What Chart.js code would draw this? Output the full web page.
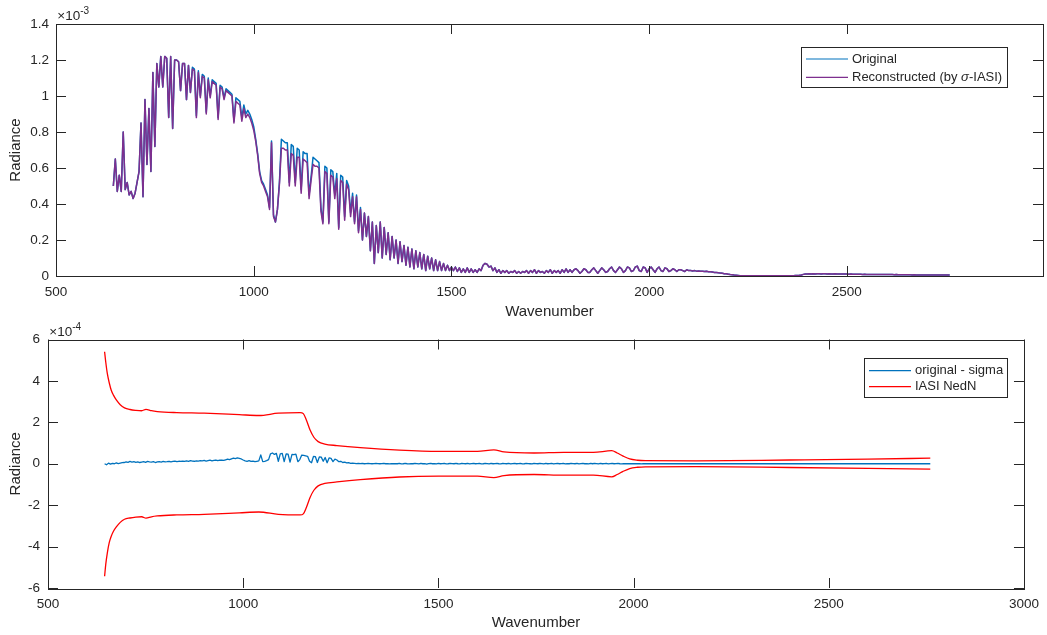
<!DOCTYPE html>
<html>
<head>
<meta charset="utf-8">
<title>IASI radiance reconstruction</title>
<script src="https://cdn.jsdelivr.net/npm/chart.js@4.4.1/dist/chart.umd.min.js"></script>
<style>
  html, body { margin: 0; padding: 0; background: #fff; }
  #wrap { position: relative; width: 1047px; height: 635px; }
  #topChart { position: absolute; left: 0; top: 0; }
  #bottomChart { position: absolute; left: 0; top: 322px; }
</style>
</head>
<body>
<div id="wrap">
  <canvas id="topChart" width="1047" height="322"></canvas>
  <canvas id="bottomChart" width="1047" height="313"></canvas>
</div>
<script>
const waveStart = 645;
const waveStep = 5;

// Top panel: radiance, in units of 1e-3 (one row = 50 cm-1)
const original = [
  0.50, 0.65, 0.47, 0.56, 0.47, 0.80, 0.48, 0.52, 0.45, 0.47,   // 645
  0.43, 0.46, 0.52, 0.58, 0.85, 0.44, 0.98, 0.62, 0.93, 0.58,   // 695
  1.13, 0.72, 1.18, 1.05, 1.22, 1.05, 1.22, 1.21, 0.88, 1.22,   // 745
  0.82, 1.20, 1.20, 1.19, 1.03, 1.18, 1.18, 0.98, 1.17, 1.02,   // 795
  1.16, 1.15, 0.89, 1.14, 1.00, 1.12, 1.11, 0.91, 1.10, 1.00,   // 845
  1.09, 1.08, 1.07, 0.88, 1.06, 1.05, 0.99, 1.04, 1.03, 1.02,   // 895
  1.01, 0.86, 0.99, 0.98, 0.97, 0.88, 0.95, 0.90, 0.92, 0.90,   // 945
  0.87, 0.83, 0.76, 0.68, 0.58, 0.53, 0.51, 0.48, 0.45, 0.38,   // 995
  0.75, 0.34, 0.30, 0.37, 0.52, 0.76, 0.75, 0.74, 0.74, 0.52,   // 1045
  0.73, 0.72, 0.52, 0.71, 0.70, 0.48, 0.69, 0.68, 0.68, 0.45,   // 1095
  0.55, 0.66, 0.65, 0.64, 0.63, 0.38, 0.30, 0.61, 0.60, 0.30,   // 1145
  0.59, 0.58, 0.45, 0.57, 0.27, 0.56, 0.55, 0.33, 0.53, 0.50,   // 1195
  0.35, 0.46, 0.30, 0.45, 0.25, 0.38, 0.20, 0.35, 0.22, 0.33,   // 1245
  0.14, 0.30, 0.07, 0.28, 0.13, 0.30, 0.10, 0.27, 0.12, 0.24,   // 1295
  0.09, 0.22, 0.10, 0.20, 0.07, 0.19, 0.08, 0.17, 0.06, 0.16,   // 1345
  0.05, 0.15, 0.04, 0.14, 0.05, 0.13, 0.04, 0.12, 0.03, 0.11,   // 1395
  0.04, 0.10, 0.03, 0.09, 0.03, 0.08, 0.03, 0.07, 0.03, 0.06,   // 1445
  0.03, 0.05, 0.03, 0.05, 0.025, 0.045, 0.02, 0.04, 0.02, 0.045, // 1495
  0.02, 0.04, 0.02, 0.035, 0.02, 0.04, 0.03, 0.06, 0.07, 0.065, // 1545
  0.05, 0.055, 0.03, 0.045, 0.02, 0.035, 0.015, 0.03, 0.02, 0.03, // 1595
  0.015, 0.025, 0.02, 0.03, 0.015, 0.025, 0.015, 0.025, 0.02, 0.03, // 1645
  0.015, 0.03, 0.02, 0.035, 0.015, 0.03, 0.02, 0.025, 0.015, 0.03, // 1695
  0.02, 0.035, 0.015, 0.03, 0.02, 0.03, 0.015, 0.035, 0.02, 0.04, // 1745
  0.02, 0.035, 0.02, 0.035, 0.04, 0.03, 0.015, 0.025, 0.04, 0.035, // 1795
  0.02, 0.02, 0.035, 0.045, 0.03, 0.015, 0.03, 0.045, 0.035, 0.02, // 1845
  0.025, 0.04, 0.05, 0.03, 0.02, 0.035, 0.05, 0.04, 0.02, 0.03, // 1895
  0.05, 0.045, 0.025, 0.03, 0.05, 0.055, 0.03, 0.025, 0.05, 0.045, // 1945
  0.02, 0.04, 0.05, 0.035, 0.02, 0.04, 0.05, 0.03, 0.025, 0.045, // 1995
  0.04, 0.025, 0.03, 0.04, 0.035, 0.025, 0.035, 0.035, 0.03, 0.025, // 2045
  0.035, 0.03, 0.03, 0.028, 0.03, 0.027, 0.028, 0.026, 0.027, 0.025, // 2095
  0.026, 0.024, 0.023, 0.022, 0.02, 0.019, 0.018, 0.016, 0.015, 0.013, // 2145
  0.012, 0.01, 0.008, 0.007, 0.005, 0.004, 0.003, 0.002, 0.002, 0.002, // 2195
  0.002, 0.002, 0.001, 0.002, 0.002, 0.002, 0.001, 0.002, 0.002, 0.002, // 2245
  0.002, 0.002, 0.002, 0.001, 0.002, 0.002, 0.002, 0.002, 0.001, 0.002, // 2295
  0.002, 0.002, 0.002, 0.002, 0.002, 0.003, 0.003, 0.004, 0.006, 0.009, // 2345
  0.011, 0.011, 0.012, 0.011, 0.012, 0.011, 0.012, 0.012, 0.011, 0.012, // 2395
  0.012, 0.011, 0.012, 0.011, 0.011, 0.012, 0.011, 0.011, 0.011, 0.011, // 2445
  0.011, 0.011, 0.010, 0.011, 0.010, 0.010, 0.010, 0.010, 0.010, 0.009, // 2495
  0.010, 0.009, 0.009, 0.009, 0.009, 0.009, 0.009, 0.008, 0.009, 0.008, // 2545
  0.008, 0.008, 0.008, 0.008, 0.008, 0.007, 0.008, 0.007, 0.007, 0.007, // 2595
  0.007, 0.007, 0.007, 0.007, 0.006, 0.007, 0.006, 0.006, 0.006, 0.006, // 2645
  0.006, 0.006, 0.006, 0.006, 0.006, 0.006, 0.005, 0.006, 0.005, 0.005, // 2695
  0.005, 0.005, 0.005, 0.005                                          // 2745
];

const reconstructed = [
  0.50, 0.65, 0.47, 0.56, 0.47, 0.80, 0.48, 0.52, 0.45, 0.47,   // 645
  0.43, 0.46, 0.52, 0.58, 0.85, 0.44, 0.98, 0.62, 0.93, 0.58,   // 695
  1.13, 0.72, 1.18, 1.05, 1.22, 1.05, 1.22, 1.21, 0.88, 1.22,   // 745
  0.82, 1.20, 1.20, 1.19, 1.03, 1.18, 1.18, 0.98, 1.17, 1.02,   // 795
  1.15, 1.14, 0.88, 1.13, 0.99, 1.11, 1.10, 0.90, 1.09, 0.99,   // 845
  1.08, 1.07, 1.06, 0.87, 1.05, 1.04, 0.98, 1.03, 1.02, 1.01,   // 895
  1.00, 0.85, 0.97, 0.96, 0.95, 0.86, 0.93, 0.88, 0.90, 0.88,   // 945
  0.85, 0.81, 0.75, 0.67, 0.57, 0.52, 0.50, 0.47, 0.44, 0.37,   // 995
  0.74, 0.33, 0.30, 0.37, 0.51, 0.71, 0.71, 0.70, 0.70, 0.50,   // 1045
  0.68, 0.67, 0.50, 0.66, 0.66, 0.46, 0.65, 0.64, 0.63, 0.43,   // 1095
  0.53, 0.62, 0.61, 0.61, 0.60, 0.36, 0.29, 0.58, 0.57, 0.29,   // 1145
  0.56, 0.55, 0.43, 0.54, 0.26, 0.53, 0.52, 0.31, 0.51, 0.48,   // 1195
  0.33, 0.44, 0.29, 0.44, 0.24, 0.37, 0.20, 0.35, 0.22, 0.33,   // 1245
  0.14, 0.30, 0.07, 0.28, 0.13, 0.30, 0.10, 0.27, 0.12, 0.24,   // 1295
  0.09, 0.22, 0.10, 0.20, 0.07, 0.19, 0.08, 0.17, 0.06, 0.16,   // 1345
  0.05, 0.15, 0.04, 0.14, 0.05, 0.13, 0.04, 0.12, 0.03, 0.11,   // 1395
  0.04, 0.10, 0.03, 0.09, 0.03, 0.08, 0.03, 0.07, 0.03, 0.06,   // 1445
  0.03, 0.05, 0.03, 0.05, 0.025, 0.045, 0.02, 0.04, 0.02, 0.045, // 1495
  0.02, 0.04, 0.02, 0.035, 0.02, 0.04, 0.03, 0.06, 0.07, 0.065, // 1545
  0.05, 0.055, 0.03, 0.045, 0.02, 0.035, 0.015, 0.03, 0.02, 0.03, // 1595
  0.015, 0.025, 0.02, 0.03, 0.015, 0.025, 0.015, 0.025, 0.02, 0.03, // 1645
  0.015, 0.03, 0.02, 0.035, 0.015, 0.03, 0.02, 0.025, 0.015, 0.03, // 1695
  0.02, 0.035, 0.015, 0.03, 0.02, 0.03, 0.015, 0.035, 0.02, 0.04, // 1745
  0.02, 0.035, 0.02, 0.035, 0.04, 0.03, 0.015, 0.025, 0.04, 0.035, // 1795
  0.02, 0.02, 0.035, 0.045, 0.03, 0.015, 0.03, 0.045, 0.035, 0.02, // 1845
  0.025, 0.04, 0.05, 0.03, 0.02, 0.035, 0.05, 0.04, 0.02, 0.03, // 1895
  0.05, 0.045, 0.025, 0.03, 0.05, 0.055, 0.03, 0.025, 0.05, 0.045, // 1945
  0.02, 0.04, 0.05, 0.035, 0.02, 0.04, 0.05, 0.03, 0.025, 0.045, // 1995
  0.04, 0.025, 0.03, 0.04, 0.035, 0.025, 0.035, 0.035, 0.03, 0.025, // 2045
  0.035, 0.03, 0.03, 0.028, 0.03, 0.027, 0.028, 0.026, 0.027, 0.025, // 2095
  0.026, 0.024, 0.023, 0.022, 0.02, 0.019, 0.018, 0.016, 0.015, 0.013, // 2145
  0.012, 0.01, 0.008, 0.007, 0.005, 0.004, 0.003, 0.002, 0.002, 0.002, // 2195
  0.002, 0.002, 0.001, 0.002, 0.002, 0.002, 0.001, 0.002, 0.002, 0.002, // 2245
  0.002, 0.002, 0.002, 0.001, 0.002, 0.002, 0.002, 0.002, 0.001, 0.002, // 2295
  0.002, 0.002, 0.002, 0.002, 0.002, 0.003, 0.003, 0.004, 0.006, 0.009, // 2345
  0.011, 0.011, 0.012, 0.011, 0.012, 0.011, 0.012, 0.012, 0.011, 0.012, // 2395
  0.012, 0.011, 0.012, 0.011, 0.011, 0.012, 0.011, 0.011, 0.011, 0.011, // 2445
  0.011, 0.011, 0.010, 0.011, 0.010, 0.010, 0.010, 0.010, 0.010, 0.009, // 2495
  0.010, 0.009, 0.009, 0.009, 0.009, 0.009, 0.009, 0.008, 0.009, 0.008, // 2545
  0.008, 0.008, 0.008, 0.008, 0.008, 0.007, 0.008, 0.007, 0.007, 0.007, // 2595
  0.007, 0.007, 0.007, 0.007, 0.006, 0.007, 0.006, 0.006, 0.006, 0.006, // 2645
  0.006, 0.006, 0.006, 0.006, 0.006, 0.006, 0.005, 0.006, 0.005, 0.005, // 2695
  0.005, 0.005, 0.005, 0.005                                          // 2745
];

// Bottom panel: original - sigma, in units of 1e-4 (same channel grid)
const difference = [
  0.00, -0.05, 0.03, -0.02, 0.02, 0.00, 0.04, 0.01, 0.03, 0.05,   // 645
  0.06, 0.09, 0.07, 0.11, 0.08, 0.10, 0.07, 0.09, 0.06, 0.08,     // 695
  0.10, 0.07, 0.11, 0.09, 0.08, 0.10, 0.06, 0.09, 0.10, 0.08,     // 745
  0.11, 0.09, 0.10, 0.12, 0.09, 0.11, 0.13, 0.10, 0.12, 0.11,     // 795
  0.13, 0.11, 0.14, 0.12, 0.15, 0.13, 0.12, 0.14, 0.13, 0.15,     // 845
  0.14, 0.16, 0.13, 0.15, 0.17, 0.14, 0.16, 0.18, 0.15, 0.17,     // 895
  0.18, 0.16, 0.19, 0.22, 0.20, 0.24, 0.27, 0.25, 0.28, 0.26,     // 945
  0.23, 0.18, 0.14, 0.12, 0.15, 0.11, 0.13, 0.10, 0.12, 0.14,     // 995
  0.43, 0.10, 0.12, 0.15, 0.20, 0.48, 0.52, 0.45, 0.50, 0.12,     // 1045
  0.48, 0.50, 0.10, 0.47, 0.46, 0.08, 0.45, 0.44, 0.46, 0.10,     // 1095
  0.20, 0.42, 0.40, 0.38, 0.36, 0.12, 0.05, 0.35, 0.34, 0.06,     // 1145
  0.33, 0.32, 0.12, 0.30, 0.05, 0.28, 0.26, 0.10, 0.22, 0.18,     // 1195
  0.10, 0.12, 0.06, 0.08, 0.04, 0.05, 0.02, 0.03, 0.02, 0.01,     // 1245
  0.02, 0.01, 0.02, 0.00, 0.01, 0.02, 0.01, 0.00, 0.01, 0.02,     // 1295
  0.01, 0.00, 0.01, 0.02, 0.00, 0.01, -0.01, 0.01, 0.00, 0.01,    // 1345
  0.00, 0.02, -0.01, 0.00, 0.02, 0.00, -0.01, 0.01, 0.00, 0.02,   // 1395
  0.01, -0.01, 0.02, 0.00, 0.01, -0.02, 0.01, 0.02, 0.00, 0.01,   // 1445
  -0.01, 0.02, 0.00, 0.01, 0.02, -0.01, 0.00, 0.02, 0.01, 0.00,   // 1495
  0.02, 0.00, -0.01, 0.02, 0.01, 0.00, 0.02, -0.01, 0.01, 0.02,   // 1545
  0.00, 0.01, 0.02, -0.01, 0.00, 0.02, 0.01, -0.01, 0.02, 0.00,   // 1595
  0.01, 0.02, 0.00, -0.01, 0.02, 0.01, 0.00, 0.02, -0.01, 0.01,   // 1645
  0.02, 0.00, 0.01, 0.02, -0.01, 0.00, 0.02, 0.01, 0.00, -0.01,   // 1695
  0.02, 0.01, 0.00, 0.02, 0.01, -0.01, 0.02, 0.00, 0.01, 0.02,    // 1745
  -0.01, 0.01, 0.02, 0.00, 0.01, 0.02, -0.01, 0.01, 0.00, 0.02,   // 1795
  0.01, 0.00, 0.02, -0.01, 0.01, 0.02, 0.00, 0.01, -0.01, 0.02,   // 1845
  0.00, 0.02, 0.01, -0.01, 0.02, 0.00, 0.01, 0.02, -0.01, 0.01,   // 1895
  0.02, 0.00, 0.01, 0.02, 0.00, -0.01, 0.01, 0.00, 0.01, 0.00,    // 1945
  0.01, 0.00, 0.00, 0.01, 0.00, -0.01, 0.00, 0.01, 0.00, 0.00,    // 1995
  0.01, 0.00, 0.00, 0.01, 0.00, 0.00, 0.01, 0.00, 0.00, 0.01,     // 2045
  0.00, 0.00, 0.01, 0.00, 0.00, 0.01, 0.00, 0.00, 0.00, 0.01,     // 2095
  0.00, 0.00, 0.01, 0.00, 0.00, 0.00, 0.01, 0.00, 0.00, 0.00,     // 2145
  0.00, 0.01, 0.00, 0.00, 0.00, 0.00, 0.00, 0.00, 0.00, 0.00,     // 2195
  0.00, 0.00, 0.00, 0.00, 0.00, 0.00, 0.00, 0.00, 0.00, 0.00,     // 2245
  0.00, 0.00, 0.00, 0.00, 0.00, 0.00, 0.00, 0.00, 0.00, 0.00,     // 2295
  0.00, 0.00, 0.00, 0.00, 0.00, 0.00, 0.00, 0.00, 0.00, 0.01,     // 2345
  0.00, 0.01, 0.00, 0.00, 0.01, 0.00, 0.00, 0.01, 0.00, 0.00,     // 2395
  0.01, 0.00, 0.00, 0.01, 0.00, 0.00, 0.01, 0.00, 0.00, 0.01,     // 2445
  0.00, 0.00, 0.01, 0.00, 0.00, 0.01, 0.00, 0.00, 0.01, 0.00,     // 2495
  0.00, 0.01, 0.00, 0.00, 0.01, 0.00, 0.00, 0.01, 0.00, 0.00,     // 2545
  0.01, 0.00, 0.00, 0.01, 0.00, 0.00, 0.01, 0.00, 0.00, 0.01,     // 2595
  0.00, 0.00, 0.01, 0.00, 0.00, 0.01, 0.00, 0.00, 0.01, 0.00,     // 2645
  0.00, 0.01, 0.00, 0.00, 0.01, 0.00, 0.00, 0.01, 0.00, 0.00,     // 2695
  0.01, 0.00, 0.00, 0.00                                          // 2745
];

// IASI NedN envelope (units of 1e-4)
const nednWave = [645, 648, 652, 657, 662, 668, 675, 685, 696, 710,
  725, 740, 751, 765, 780, 830, 900, 990, 1040, 1090,
  1146, 1154, 1162, 1171, 1181, 1192, 1209, 1240, 1300, 1400,
  1500, 1600, 1642, 1668, 1745, 1821, 1897, 1944, 1958, 1972,
  1990, 2010, 2030, 2160, 2400, 2600, 2760];
const nednUpper = [5.41, 4.90, 4.35, 3.90, 3.55, 3.30, 3.08, 2.85, 2.70, 2.62,
  2.58, 2.56, 2.63, 2.56, 2.52, 2.47, 2.44, 2.37, 2.33, 2.44,
  2.47, 2.42, 2.10, 1.64, 1.28, 1.07, 0.95, 0.88, 0.78, 0.66,
  0.60, 0.60, 0.67, 0.57, 0.52, 0.55, 0.55, 0.63, 0.52, 0.38,
  0.23, 0.17, 0.15, 0.14, 0.18, 0.22, 0.27];
const nednLower = [-5.43, -4.85, -4.30, -3.80, -3.50, -3.25, -3.05, -2.83, -2.68, -2.62,
  -2.58, -2.56, -2.63, -2.56, -2.52, -2.47, -2.44, -2.37, -2.33, -2.44,
  -2.47, -2.42, -2.10, -1.64, -1.28, -1.07, -0.95, -0.88, -0.77, -0.64,
  -0.60, -0.60, -0.67, -0.57, -0.52, -0.55, -0.55, -0.63, -0.52, -0.38,
  -0.23, -0.17, -0.15, -0.14, -0.18, -0.22, -0.26];

const topXTicks = [500, 1000, 1500, 2000, 2500];
const topYTicks = [0, 0.2, 0.4, 0.6, 0.8, 1, 1.2, 1.4];
const bottomXTicks = [500, 1000, 1500, 2000, 2500, 3000];
const bottomYTicks = [-6, -4, -2, 0, 2, 4, 6];

const FONT = "'Liberation Sans', Arial, Helvetica, sans-serif";
const INK = '#262626';
Chart.defaults.font.family = FONT;
Chart.defaults.color = INK;

const wavenumbers = original.map((_, i) => waveStart + i * waveStep);
const toPoints = (xs, ys) => xs.map((x, i) => ({ x: x, y: ys[i] }));

// MATLAB style box: frame, inward ticks on all sides, x10^n exponent
const matlabAxes = {
    id: 'matlabAxes',
    afterDatasetsDraw(chart, args, opts) {
        const { ctx, chartArea: a, scales } = chart;
        const len = 10;
        ctx.save();
        ctx.strokeStyle = INK;
        ctx.lineWidth = 1;
        ctx.beginPath();
        scales.x.ticks.forEach(t => {
            const px = Math.round(scales.x.getPixelForValue(t.value)) + 0.5;
            ctx.moveTo(px, a.bottom); ctx.lineTo(px, a.bottom - len);
            ctx.moveTo(px, a.top); ctx.lineTo(px, a.top + len);
        });
        scales.y.ticks.forEach(t => {
            const py = Math.round(scales.y.getPixelForValue(t.value)) + 0.5;
            ctx.moveTo(a.left, py); ctx.lineTo(a.left + len, py);
            ctx.moveTo(a.right, py); ctx.lineTo(a.right - len, py);
        });
        ctx.stroke();
        ctx.strokeRect(Math.round(a.left) + 0.5, Math.round(a.top) + 0.5,
            Math.round(a.width), Math.round(a.height));

        ctx.fillStyle = INK;
        ctx.textBaseline = 'alphabetic';
        ctx.font = '13.5px ' + FONT;
        ctx.fillText('\u00d710', a.left + 1.3, a.top - 4);
        const w = ctx.measureText('\u00d710').width;
        ctx.font = '10px ' + FONT;
        ctx.fillText(opts.exponent, a.left + 1.3 + w, a.top - 10);
        ctx.restore();
    }
};

// boxed legend, sigma drawn in italics
const boxLegend = {
    id: 'boxLegend',
    afterDraw(chart, args, opts) {
        const { ctx } = chart;
        ctx.save();
        ctx.fillStyle = '#fff';
        ctx.fillRect(opts.x, opts.y, opts.w, opts.h);
        ctx.strokeStyle = INK;
        ctx.lineWidth = 1;
        ctx.strokeRect(opts.x + 0.5, opts.y + 0.5, opts.w, opts.h);
        ctx.textBaseline = 'middle';
        opts.items.forEach((idx, i) => {
            const ds = chart.data.datasets[idx];
            const y = opts.y + opts.first + i * opts.gap;
            ctx.strokeStyle = ds.borderColor;
            ctx.lineWidth = 1.2;
            ctx.beginPath();
            ctx.moveTo(opts.x + 5, y);
            ctx.lineTo(opts.x + 47, y);
            ctx.stroke();
            ctx.fillStyle = INK;
            let tx = opts.x + 51;
            const parts = ds.label.split('\u03c3');
            parts.forEach((p, j) => {
                ctx.font = '13px ' + FONT;
                ctx.fillText(p, tx, y);
                tx += ctx.measureText(p).width;
                if (j < parts.length - 1) {
                    ctx.font = 'italic 13px ' + FONT;
                    ctx.fillText('\u03c3', tx, y);
                    tx += ctx.measureText('\u03c3').width;
                }
            });
        });
        ctx.restore();
    }
};

function axisOptions(cfg) {
    return {
        type: 'linear',
        min: cfg.min,
        max: cfg.max,
        afterBuildTicks: axis => { axis.ticks = cfg.ticks.map(v => ({ value: v })); },
        afterFit: cfg.fit,
        grid: { display: false, drawTicks: false },
        border: { display: false },
        ticks: {
            padding: cfg.tickPad,
            autoSkip: false,
            maxRotation: 0,
            color: INK,
            font: { size: 13.5 },
            callback: v => String(v)
        },
        title: {
            display: true,
            text: cfg.title,
            color: INK,
            font: { size: 15 },
            padding: cfg.titlePad
        }
    };
}

function makeChart(id, datasets, layoutPad, scales, axesOpts, legendOpts) {
    return new Chart(document.getElementById(id), {
        type: 'line',
        data: { datasets: datasets },
        options: {
            responsive: false,
            animation: false,
            events: [],
            parsing: false,
            layout: { padding: layoutPad },
            elements: {
                point: { radius: 0 },
                line: { tension: 0, borderJoinStyle: 'round' }
            },
            scales: scales,
            plugins: {
                legend: { display: false },
                tooltip: { enabled: false },
                matlabAxes: axesOpts,
                boxLegend: legendOpts
            }
        },
        plugins: [matlabAxes, boxLegend]
    });
}

// Top: original vs reconstructed spectrum
makeChart('topChart', [
    {
        label: 'Original',
        data: toPoints(wavenumbers, original),
        borderColor: '#0072BD',
        borderWidth: 1.5,
        order: 2
    },
    {
        label: 'Reconstructed (by \u03c3-IASI)',
        data: toPoints(wavenumbers, reconstructed),
        borderColor: '#7E2F8E',
        borderWidth: 1.5,
        order: 1
    }
], { top: 24, right: 4, left: 0, bottom: 0 }, {
    x: axisOptions({ min: 500, max: 2996, ticks: topXTicks, tickPad: 8,
        fit: s => { s.height = 46; }, title: 'Wavenumber', titlePad: { top: 0, bottom: 1.3 } }),
    y: axisOptions({ min: 0, max: 1.4, ticks: topYTicks, tickPad: 7,
        fit: s => { s.width = 56; }, title: 'Radiance', titlePad: { top: 6.5, bottom: 0 } })
}, { exponent: '-3' }, { x: 801, y: 47, w: 206, h: 40, first: 12, gap: 18.3, items: [0, 1] });

// Bottom: residual against the instrument noise
makeChart('bottomChart', [
    {
        label: 'original - sigma',
        data: toPoints(wavenumbers, difference),
        borderColor: '#0072BD',
        borderWidth: 1.3
    },
    {
        label: 'IASI NedN',
        data: toPoints(nednWave, nednUpper),
        borderColor: '#FF0000',
        borderWidth: 1.3,
        cubicInterpolationMode: 'monotone'
    },
    {
        label: 'IASI NedN',
        data: toPoints(nednWave, nednLower),
        borderColor: '#FF0000',
        borderWidth: 1.3,
        cubicInterpolationMode: 'monotone'
    }
], { top: 17.5, right: 17, left: 0, bottom: 0 }, {
    x: axisOptions({ min: 500, max: 3000, ticks: bottomXTicks, tickPad: 8,
        fit: s => { s.height = 47; }, title: 'Wavenumber', titlePad: { top: 0, bottom: 2.7 } }),
    y: axisOptions({ min: -6, max: 6, ticks: bottomYTicks, tickPad: 8,
        fit: s => { s.width = 48; }, title: 'Radiance', titlePad: { top: 6.5, bottom: 0 } })
}, { exponent: '-4' }, { x: 864, y: 36, w: 143, h: 39, first: 12.7, gap: 16, items: [0, 1] });
</script>
</body>
</html>
